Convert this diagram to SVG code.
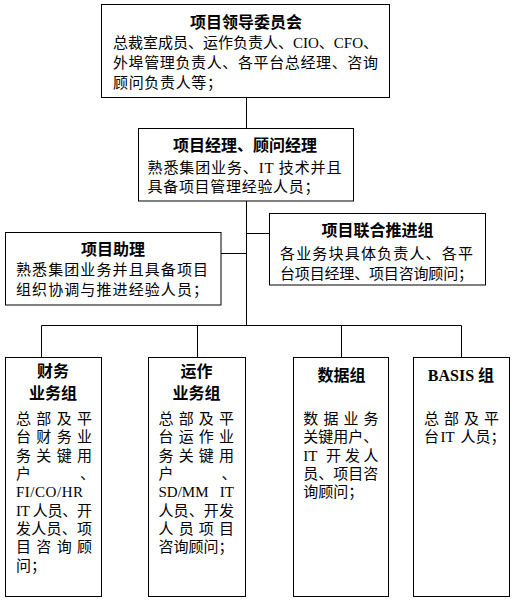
<svg xmlns="http://www.w3.org/2000/svg" width="514" height="603" viewBox="0 0 514 603">
<style>
rect.box{fill:#fff;stroke:#000;stroke-width:1}
.c line{stroke:#000;stroke-width:1}
text{font-family:"Liberation Serif","Noto Sans CJK SC",serif;fill:#000}
.t{font-size:16px;font-weight:bold;text-anchor:middle}
.b{font-size:15px}
</style>
<rect width="514" height="603" fill="#fff"/>
<g class="c" id="connectors">
<line x1="246.5" y1="97.5" x2="246.5" y2="128.5"/>
<line x1="246.5" y1="201" x2="246.5" y2="325.5"/>
<line x1="221" y1="253.5" x2="246.5" y2="253.5"/>
<line x1="246.5" y1="233.5" x2="269.5" y2="233.5"/>
<line x1="41.5" y1="325.5" x2="461.5" y2="325.5"/>
<line x1="41.5" y1="325.5" x2="41.5" y2="357.5"/>
<line x1="197.5" y1="325.5" x2="197.5" y2="357.5"/>
<line x1="341.5" y1="325.5" x2="341.5" y2="357.5"/>
<line x1="461.5" y1="325.5" x2="461.5" y2="357.5"/>
</g>
<g id="committee">
<rect class="box" x="101.5" y="4.5" width="288" height="93"/>
<text class="t" x="246" y="28">项目领导委员会</text>
<text class="b" x="113" y="48" textLength="265" lengthAdjust="spacing">总裁室成员、运作负责人、CIO、CFO、</text>
<text class="b" x="113" y="68" textLength="265" lengthAdjust="spacing">外埠管理负责人、各平台总经理、咨询</text>
<text class="b" x="113" y="88" textLength="109" lengthAdjust="spacing">顾问负责人等；</text>
</g>
<g id="pm">
<rect class="box" x="138.5" y="128.5" width="215" height="72.5"/>
<text class="t" x="245" y="151">项目经理、顾问经理</text>
<text class="b" x="147.5" y="172.5" textLength="194" lengthAdjust="spacing">熟悉集团业务、IT 技术并且</text>
<text class="b" x="147.5" y="191.5" textLength="172" lengthAdjust="spacing">具备项目管理经验人员；</text>
</g>
<g id="assistant">
<rect class="box" x="5.5" y="232.5" width="215.5" height="72.5"/>
<text class="t" x="113" y="254.5">项目助理</text>
<text class="b" x="16" y="275" textLength="192" lengthAdjust="spacing">熟悉集团业务并且具备项目</text>
<text class="b" x="16" y="295" textLength="192" lengthAdjust="spacing">组织协调与推进经验人员；</text>
</g>
<g id="joint">
<rect class="box" x="269.5" y="213.5" width="216" height="71.5"/>
<text class="t" x="377.5" y="236">项目联合推进组</text>
<text class="b" x="280" y="259" textLength="193" lengthAdjust="spacing">各业务块具体负责人、各平</text>
<text class="b" x="280" y="278.5" textLength="193" lengthAdjust="spacing">台项目经理、项目咨询顾问；</text>
</g>
<g id="finance">
<rect class="box" x="5.5" y="357.5" width="96" height="239"/>
<text class="t" x="53" y="377">财务</text>
<text class="t" x="53" y="398.7">业务组</text>
<text class="b" x="16 36.33 56.67 77" y="423.8">总部及平</text>
<text class="b" x="16 36.33 56.67 77" y="442.2">台财务业</text>
<text class="b" x="16 36.33 56.67 77" y="460.5">务关键用</text>
<text class="b" x="16 80" y="478.8">户、</text>
<text class="b" x="16" y="497.2" textLength="67" lengthAdjust="spacing">FI/CO/HR</text>
<text class="b" x="16" y="515.5" textLength="76" lengthAdjust="spacing">IT 人员、开</text>
<text class="b" x="16" y="533.8" textLength="76" lengthAdjust="spacing">发人员、项</text>
<text class="b" x="16 36.33 56.67 77" y="552.2">目咨询顾</text>
<text class="b" x="16" y="570.5">问；</text>
</g>
<g id="operation">
<rect class="box" x="148.5" y="357.5" width="97" height="239"/>
<text class="t" x="196.5" y="377">运作</text>
<text class="t" x="196.5" y="398.7">业务组</text>
<text class="b" x="158.5 178.67 198.83 219" y="423.8">总部及平</text>
<text class="b" x="158.5 178.67 198.83 219" y="442.2">台运作业</text>
<text class="b" x="158.5 178.67 198.83 219" y="460.5">务关键用</text>
<text class="b" x="158.5 221.5" y="478.8">户、</text>
<text class="b" x="158.5" y="497.2">SD/MM</text>
<text class="b" x="234" y="497.2" text-anchor="end">IT</text>
<text class="b" x="158.5" y="515.5" textLength="75.5" lengthAdjust="spacing">人员、开发</text>
<text class="b" x="158.5 178.67 198.83 219" y="533.8">人员项目</text>
<text class="b" x="158.5" y="552.2">咨询顾问；</text>
</g>
<g id="data">
<rect class="box" x="293.5" y="357.5" width="95" height="239"/>
<text class="t" x="341.5" y="381">数据组</text>
<text class="b" x="303.3 323.4 343.5 363.5" y="423.8">数据业务</text>
<text class="b" x="303.3" y="442.2">关键用户、</text>
<text class="b" x="303.3" y="460.5">IT<tspan x="326 345 363.5">开发人</tspan></text>
<text class="b" x="303.3" y="478.8">员、项目咨</text>
<text class="b" x="303.3" y="497.2">询顾问；</text>
</g>
<g id="basis">
<rect class="box" x="413.5" y="357.5" width="96" height="239"/>
<text class="t" x="461" y="381">BASIS 组</text>
<text class="b" x="424 444 464 484" y="423.8">总部及平</text>
<text class="b" x="424" y="442.2">台<tspan x="440.5">IT</tspan><tspan x="460.5">人员；</tspan></text>
</g>
</svg>
